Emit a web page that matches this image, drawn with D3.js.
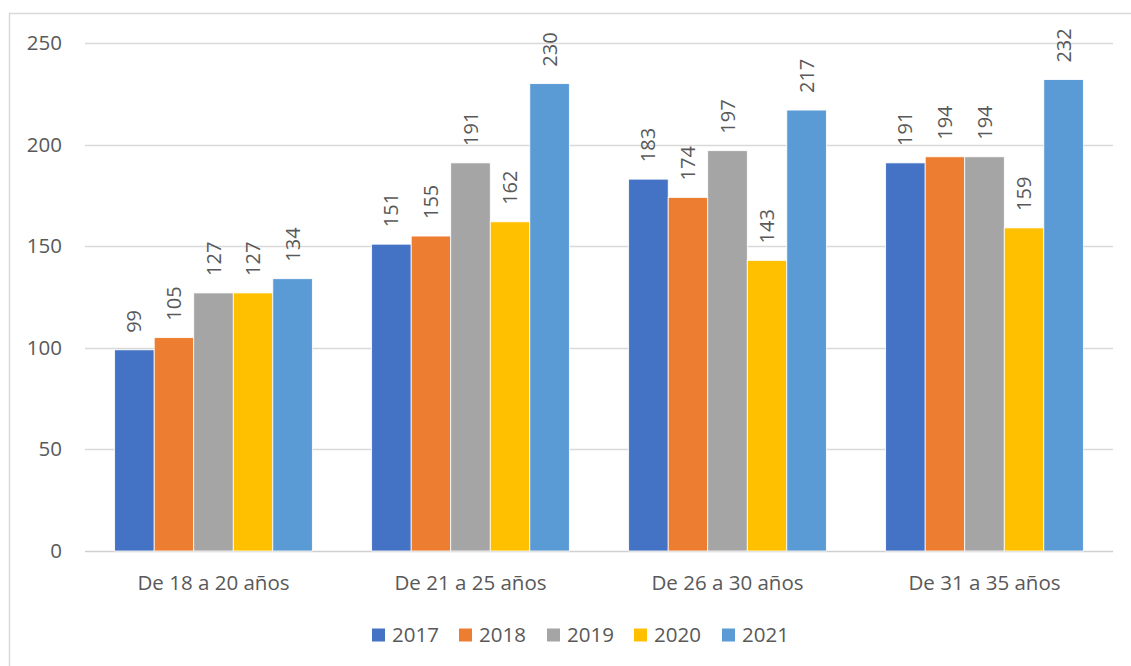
<!DOCTYPE html>
<html><head><meta charset="utf-8">
<script src="https://cdn.jsdelivr.net/npm/d3@7"></script>
<style>body{margin:0;background:#fff}svg{display:block}text{font-family:"Open Sans",sans-serif;fill:#595959}</style>
</head><body><svg id="c" width="1131" height="666"></svg>
<script>
const categories = ["De 18 a 20 años","De 21 a 25 años","De 26 a 30 años","De 31 a 35 años"];
const seriesNames = ["2017","2018","2019","2020","2021"];
const colors = ["#4472C4","#ED7D31","#A5A5A5","#FFC000","#5B9BD5"];
const v2017 = [99,151,183,191];
const v2018 = [105,155,174,194];
const v2019 = [127,191,197,194];
const v2020 = [127,162,143,159];
const v2021 = [134,230,217,232];
const values = [v2017,v2018,v2019,v2020,v2021];
const yTicks = [0,50,100,150,200,250];

(function(){
const svg = d3.select("#c");
svg.append("rect").attr("x",9.5).attr("y",13.5).attr("width",1140).attr("height",700)
  .attr("fill","#fff").attr("stroke","#d9d9d9").attr("stroke-width",1.5);

const pL=85,pR=1113,pT=43,pB=551;
const y = d3.scaleLinear().domain([0,250]).range([pB,pT]);
const x0 = d3.scaleBand().domain(categories).range([pL,pR]).paddingInner(0).paddingOuter(0);
const gap = 1.5; // excel gap width 150%
const barW = x0.bandwidth()/(5+gap);
const x1 = d3.scaleBand().domain(seriesNames).range([barW*gap/2, x0.bandwidth()-barW*gap/2]).padding(0);

svg.append("g").selectAll("line").data(yTicks).join("line")
  .attr("x1",pL).attr("x2",pR).attr("y1",d=>Math.round(y(d))+0.5).attr("y2",d=>Math.round(y(d))+0.5)
  .attr("stroke",d=>d===0?"#d0d0d0":"#d9d9d9").attr("stroke-width",1.5);

const yAxis = d3.axisLeft(y).tickValues(yTicks).tickSize(0).tickPadding(0);
const ga = svg.append("g").attr("transform",`translate(62,0)`).call(yAxis);
ga.select(".domain").remove();
ga.selectAll("text").style("font-size","20.5px").attr("fill","#595959").style("font-family","Open Sans");

const groups = svg.append("g").selectAll("g").data(categories).join("g")
  .attr("transform",d=>`translate(${x0(d)},0)`);
groups.each(function(cat,ci){
  const g=d3.select(this);
  seriesNames.forEach((s,si)=>{
    const val=values[si][ci];
    g.append("rect").attr("x",x1(s)).attr("width",x1.bandwidth()).attr("y",y(val)).attr("height",y(0)-y(val))
      .attr("fill",colors[si]).attr("stroke","#fff").attr("stroke-width",0.8);
    const cx=x1(s)+x1.bandwidth()/2, ty=y(val)-17;
    g.append("text").attr("transform",`translate(${cx},${ty}) rotate(-90)`)
      .attr("dy","0.35em").attr("text-anchor","start").style("font-size","20px").text(val);
  });
});

const xAxis = d3.axisBottom(x0).tickSize(0).tickPadding(0);
const gx = svg.append("g").attr("transform",`translate(0,583)`).call(xAxis);
gx.select(".domain").remove();
gx.selectAll("text").attr("dy","0.35em").style("font-size","20.5px").attr("fill","#595959").style("font-family","Open Sans");

const legX=[372,459,547,634,722];
const leg = svg.append("g").selectAll("g").data(seriesNames).join("g")
  .attr("transform",(d,i)=>`translate(${legX[i]},635)`);
leg.append("rect").attr("x",0).attr("y",-6.5).attr("width",13).attr("height",13).attr("fill",(d,i)=>colors[i]);
leg.append("text").attr("x",20).attr("dy","0.35em").style("font-size","20.5px").text(d=>d);
})();
</script></body></html>
